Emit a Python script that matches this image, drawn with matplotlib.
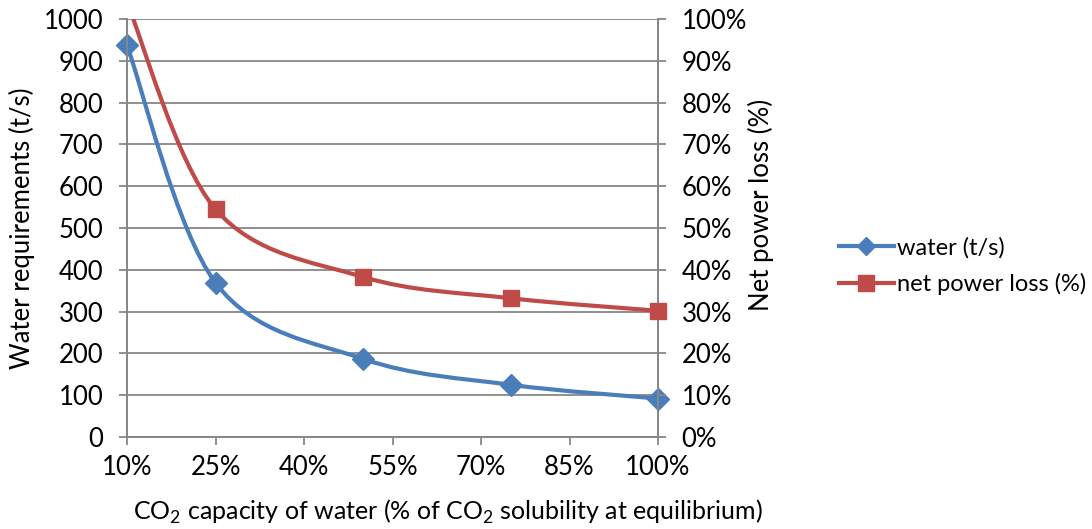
import matplotlib
matplotlib.use('Agg')
import matplotlib.pyplot as plt
from matplotlib.path import Path
from matplotlib.patches import PathPatch
from matplotlib.lines import Line2D
from matplotlib.ticker import FuncFormatter

# data
capacity = [10, 25, 50, 75, 100]            # % of CO2 solubility
water = [937, 369, 187, 125, 92]            # t/s
power_loss = [1.04, 0.545, 0.383, 0.332, 0.302]  # fraction

x_ticks = [10, 25, 40, 55, 70, 85, 100]

blue = '#4A7EBB'
red = '#BE4B48'
grid_col = '#878787'

plt.rcParams['font.family'] = ['Lato', 'DejaVu Sans']
plt.rcParams['mathtext.fontset'] = 'custom'
plt.rcParams['mathtext.rm'] = 'Lato'
fs = 18.5


# smooth curve like Excel (Catmull-Rom as cubic bezier)
def smooth_path(xs, ys):
    pts = list(zip(xs, ys))
    n = len(pts)
    verts = [pts[0]]
    codes = [Path.MOVETO]
    for i in range(n - 1):
        p0 = pts[i - 1] if i > 0 else pts[i]
        p1 = pts[i]
        p2 = pts[i + 1]
        p3 = pts[i + 2] if i + 2 < n else pts[i + 1]
        c1 = (p1[0] + (p2[0] - p0[0]) / 6, p1[1] + (p2[1] - p0[1]) / 6)
        c2 = (p2[0] - (p3[0] - p1[0]) / 6, p2[1] - (p3[1] - p1[1]) / 6)
        verts += [c1, c2, p2]
        codes += [Path.CURVE4] * 3
    return Path(verts, codes)


fig = plt.figure(figsize=(10.92, 5.29), dpi=100)
ax = fig.add_axes([127 / 1092, 1 - 437 / 529, 531 / 1092, 418 / 529])
ax2 = ax.twinx()

ax.set_xlim(10, 100)
ax.set_ylim(0, 1000)
ax2.set_ylim(0, 1.0)
ax.set_xticks(x_ticks)
ax.xaxis.set_major_formatter(FuncFormatter(lambda v, p: '%d%%' % v))
ax.set_yticks(range(0, 1001, 100))
ax2.set_yticks([i / 10 for i in range(11)])
ax2.yaxis.set_major_formatter(FuncFormatter(lambda v, p: '%d%%' % round(v * 100)))

ax.yaxis.grid(True, color=grid_col, linewidth=1.3)
ax.set_axisbelow(True)
for a in (ax, ax2):
    for s in a.spines.values():
        s.set_color(grid_col)
        s.set_linewidth(1.3)
    a.spines['top'].set_visible(False)
    a.tick_params(color=grid_col, width=1.3, length=6, labelsize=fs, colors='black')
    a.tick_params(axis='y', pad=11)
ax.tick_params(axis='x', pad=7)

ax.add_patch(PathPatch(smooth_path(capacity, water), fill=False, edgecolor=blue,
                       linewidth=3.0, zorder=3, capstyle='round'))
ax.plot(capacity, water, linestyle='none', marker='D', markersize=11,
        color=blue, zorder=4, clip_on=False)

ax2.add_patch(PathPatch(smooth_path(capacity, power_loss), fill=False, edgecolor=red,
                        linewidth=3.0, zorder=3))
ax2.plot(capacity[1:], power_loss[1:], linestyle='none', marker='s', markersize=12,
         color=red, zorder=4, clip_on=False)

ax.set_ylabel('Water requirements (t/s)', fontsize=fs, labelpad=6)
ax2.set_ylabel('Net power loss (%)', fontsize=fs, labelpad=8)
ax2.yaxis.set_label_coords(1.17, 0.555)
fig.text(448 / 1092, 1 - 512 / 529,
         'CO$_2$ capacity of water (% of CO$_2$ solubility at equilibrium)',
         fontsize=18, ha='center', va='center')

handles = [Line2D([], [], color=blue, linewidth=3.0, marker='D', markersize=9),
           Line2D([], [], color=red, linewidth=3.0, marker='s', markersize=11)]
fig.legend(handles, ['water (t/s)', 'net power loss (%)'],
           loc='center left', bbox_to_anchor=(818 / 1092, 1 - 266 / 529),
           frameon=False, fontsize=17, handlelength=2.3, handletextpad=0.15,
           labelspacing=0.6)

fig.savefig('out.png', dpi=100)
